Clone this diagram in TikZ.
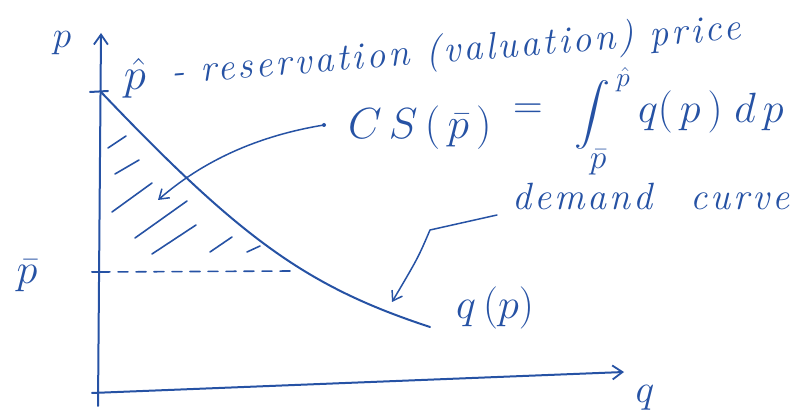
\documentclass[tikz,border=0pt]{standalone}
\usepackage{fontspec}
\usetikzlibrary{arrows.meta}
\definecolor{ink}{RGB}{38,82,164}
\newfontfamily\handfont{Latin Modern Roman}[LetterSpace=8]
\newcommand\hwtext{\handfont\itshape\fontsize{38}{42}\selectfont}
\newcommand\hwm[2][1.45]{\scalebox{#1}{\Huge #2}}
\begin{document}
\begin{tikzpicture}[x=1pt,y=-1pt,line cap=round,line join=round,
  axisline/.style={draw=ink,line width=2pt},
  curveline/.style={draw=ink,line width=2pt},
  hatchline/.style={draw=ink,line width=1.6pt},
  pointer/.style={draw=ink,line width=1.5pt,-{Straight Barb[length=9pt,width=12pt,line width=1.5pt]}},
  axisarrow/.style={axisline,-{Straight Barb[length=10pt,width=14pt,line width=1.8pt]}},
  lab/.style={text=ink,inner sep=0pt,outer sep=0pt}]
\useasboundingbox (0,0) rectangle (809,419);
% axes
\coordinate (ybot) at (98,406);
\coordinate (ytop) at (101,33);
\coordinate (xleft) at (92,393);
\coordinate (xright) at (624,372);
\draw[axisarrow] (ybot) -- (ytop);
\draw[axisarrow] (xleft) -- (xright);
% ticks
\coordinate (phat) at (101,92);
\coordinate (pbar) at (100,272);
\draw[axisline] (90,92) -- (108,91);
\draw[axisline] (92,272) -- (106,272);
% demand curve
\coordinate (cend) at (430,327);
\draw[curveline] (phat) .. controls (242,240) and (308,287) .. (cend);
% dashed p-bar line
\coordinate (dashend) at (292,271);
\draw[hatchline,dash pattern=on 10pt off 8pt] (pbar) -- (dashend);
% hatching
\draw[hatchline] (108,148) -- (126,136);
\draw[hatchline] (115,174) -- (139,160);
\draw[hatchline] (112,212) -- (152,183);
\draw[hatchline] (135,238) -- (187,201);
\draw[hatchline] (152,254) -- (196,225);
\draw[hatchline] (210,252) -- (232,237);
\draw[hatchline] (247,252) -- (260,246);
% axis labels
\node[lab] (plab) at (62,43) {\hwm[1.5]{$p$}};
\node[lab] (qlab) at (645,398) {\hwm[1.6]{$q$}};
\node[lab] (pbarlab) at (27,276) {\hwm[1.7]{$\bar{p}$}};
% header
\node[lab] (phatlab) at (135,78) {\hwm[1.8]{$\hat{p}$}};
\node[lab,anchor=base west,rotate=4.5] (hdr) at (172,84) {\hwtext - reservation (valuation) price};
% formula
\node[lab,anchor=west] (cs) at (348,128) {\hwm[1.75]{$C\,S\,(\,\bar{p}\,)$}};
\node[lab] (eq) at (528,111) {\hwm[1.65]{$=$}};
\node[lab] (intg) at (592,115) {\scalebox{3.6}[3.1]{$\displaystyle\int$}};
\node[lab] (upl) at (623,80) {\hwm[1.1]{$\hat{p}$}};
\node[lab] (lol) at (598,162) {\hwm[1.35]{$\bar{p}$}};
\node[lab,anchor=west] (integrand) at (638,112) {\hwm[1.7]{$q(\,p\,)\;d\,p$}};
% demand curve labels
\node[lab,anchor=base west] (dem) at (512,210) {\hwtext demand\hspace{38pt}curve};
\node[lab] (qp) at (495,308) {\hwm[1.7]{$q\,(p)$}};
% pointer to area
\coordinate (csdot) at (324,125);
\coordinate (cstip) at (158,200);
\fill[ink] (csdot) circle (2pt);
\draw[pointer] (csdot) .. controls (257,136) and (203,161) .. (cstip);
% pointer to curve
\coordinate (dstart) at (497,215);
\coordinate (dknee) at (430,230);
\coordinate (dtip) at (392,302);
\draw[pointer] (dstart) -- (dknee) .. controls (418,258) .. (dtip);
\end{tikzpicture}
\end{document}
